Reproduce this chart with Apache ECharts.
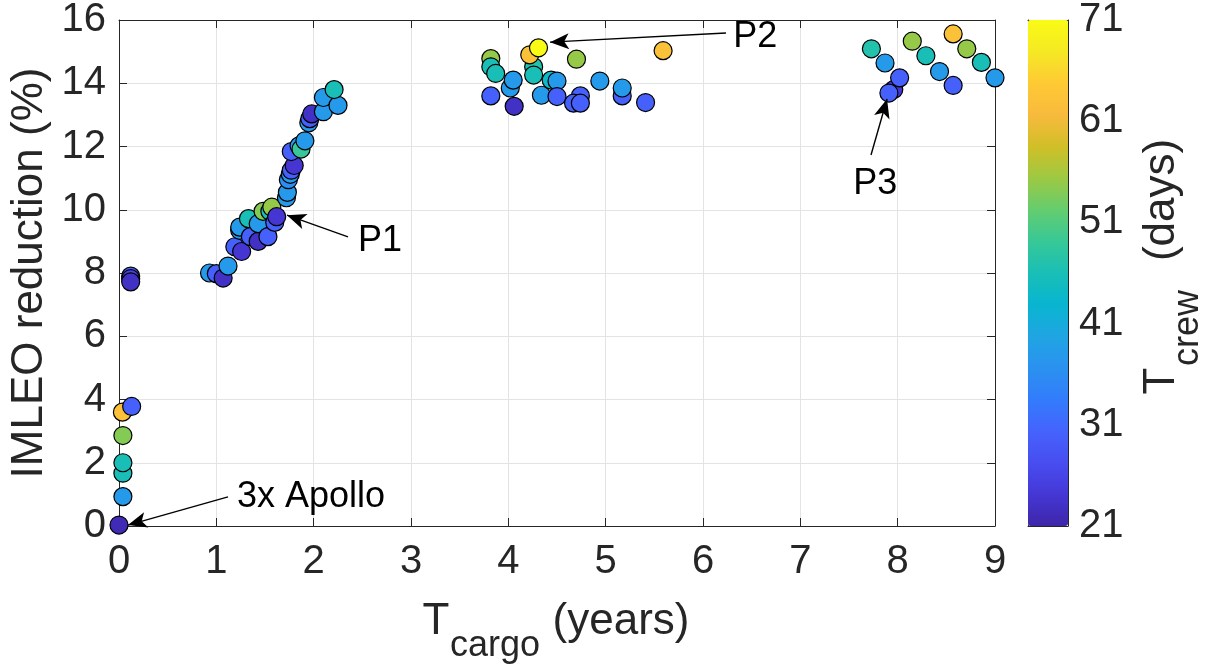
<!DOCTYPE html>
<html>
<head>
<meta charset="utf-8">
<script src="https://cdn.jsdelivr.net/npm/echarts@6/dist/echarts.min.js"></script>
<style>html,body{margin:0;padding:0;background:#fff}#main{width:1213px;height:664px}</style>
</head>
<body>
<div id="main"></div>
<script>
// T_cargo (years), IMLEO reduction (%), T_crew (days)
var tcargo = [0.00, 0.04, 0.04, 0.04, 0.04, 0.035, 0.13, 0.12, 0.12, 0.12,
  0.93, 1.00, 1.07, 1.12, 1.19, 1.26, 1.24, 1.24, 1.33, 1.35, 1.43, 1.43, 1.53, 1.48, 1.55,
  1.57, 1.60, 1.62, 1.72, 1.73, 1.74, 1.76, 1.77, 1.80, 1.77, 1.85, 1.87, 1.91, 1.95, 1.96,
  1.98, 2.10, 2.10, 2.25, 2.21,
  3.82, 3.82, 3.87, 3.82, 4.02, 4.05, 4.06, 4.26, 4.26, 4.22, 4.31, 4.34, 4.44, 4.50, 4.50,
  4.70, 4.74, 4.67, 4.74, 4.94, 5.17, 5.17, 5.41, 5.59,
  7.73, 7.87, 7.96, 8.02, 7.91, 8.15, 8.29, 8.43, 8.57, 8.57, 8.71, 8.86, 9.00];
var imleo = [0.03, 0.93, 1.67, 2.00, 2.86, 3.60, 3.78, 7.90, 7.82, 7.72,
  8.00, 7.98, 7.84, 8.22, 8.83, 8.68, 9.35, 9.45, 9.72, 9.15, 9.00, 9.56, 9.15, 9.95, 9.95,
  10.08, 9.60, 9.78, 10.38, 10.55, 10.95, 11.12, 11.25, 11.40, 11.84, 12.02, 11.92, 12.18, 12.75, 12.88,
  13.03, 13.10, 13.55, 13.30, 13.80,
  14.78, 14.52, 14.31, 13.60, 13.85, 14.10, 13.27, 14.52, 14.26, 14.90, 15.12, 13.62, 14.10, 14.07, 13.58,
  14.76, 13.60, 13.37, 13.37, 14.07, 13.60, 13.85, 13.39, 15.03,
  15.09, 14.64, 13.80, 14.17, 13.69, 15.33, 14.87, 14.37, 13.93, 15.56, 15.09, 14.66, 14.17];
var tcrew = [22, 38, 46, 46, 54, 63, 30, 30, 26, 23,
  38, 30, 23, 38, 30, 24, 38, 38, 46, 30, 23, 38, 30, 54, 46,
  55, 30, 24, 38, 38, 36, 38, 30, 24, 30, 38, 49, 38, 38, 30,
  23, 38, 38, 38, 46,
  55, 46, 46, 30, 38, 38, 23, 47, 46, 63, 71, 38, 44, 38, 30,
  55, 30, 30, 30, 38, 30, 38, 30, 63,
  47, 38, 24, 30, 30, 55, 46, 38, 30, 63, 55, 46, 38];

var xRange = [0, 9, 1];
var yRange = [0, 16, 2];
var crewRange = [21, 71, 10];

// annotations: label, label anchor, arrow tail, arrow tip (data coords)
var annoText = ['3x Apollo', 'P1', 'P2', 'P3'];
var annoAt = [[1.212, 0.90], [2.456, 9.0], [6.31, 15.45], [7.77, 10.81]];
var annoAlign = ['left', 'left', 'left', 'center'];
var annoTail = [[1.12, 0.92], [2.353, 9.14], [6.236, 15.59], [7.726, 11.73]];
var annoTip = [[0.092, 0.03], [1.726, 9.83], [4.428, 15.30], [7.891, 13.50]];

// parula
var parula = ['#3e26a8', '#4537d5', '#484df0', '#4563fd', '#327cfc', '#2b91ef', '#20a5e3', '#08b5d0',
  '#19bfb6', '#37c897', '#64cd6f', '#9dc943', '#d1bf27', '#f8ba3d', '#fec934', '#f5e924', '#f9fb15'];

var font = 'Liberation Sans, Arial, sans-serif';
var ink = '#262626';

var points = [];
for (var i = 0; i < tcargo.length; i++) {
  points.push([tcargo[i], imleo[i], tcrew[i]]);
}
var arrows = [];
for (var i = 0; i < annoTail.length; i++) {
  arrows.push([{coord: annoTail[i]}, {coord: annoTip[i]}]);
}

var chart = echarts.init(document.getElementById('main'), null, {renderer: 'canvas'});

function edgeAxis(pos, grid, range, ticks) {
  return {
    type: 'value', gridIndex: grid, position: pos,
    min: range[0], max: range[1], interval: range[2],
    axisLine: {show: true, onZero: false, lineStyle: {color: ink, width: 1}},
    axisTick: {show: ticks, inside: true, length: 8, lineStyle: {color: ink}},
    axisLabel: {show: false},
    splitLine: {show: false}
  };
}

var option = {
  animation: false,
  backgroundColor: '#fff',
  textStyle: {fontFamily: font},
  grid: [
    {left: 119, right: 218, top: 20, bottom: 138, outerBoundsMode: 'none'},
    {left: 1028, width: 40, top: 20, height: 506, outerBoundsMode: 'none'}
  ],
  xAxis: [
    {
      type: 'value', gridIndex: 0, position: 'bottom',
      min: xRange[0], max: xRange[1], interval: xRange[2],
      axisLine: {show: true, onZero: false, lineStyle: {color: ink, width: 1}},
      axisTick: {show: true, inside: true, length: 8, lineStyle: {color: ink}},
      axisLabel: {color: ink, fontSize: 40, fontFamily: font, margin: 16},
      splitLine: {show: true, lineStyle: {color: '#e3e3e3', width: 1}}
    },
    edgeAxis('top', 0, xRange, true),
    edgeAxis('bottom', 1, [0, 1, 1], false),
    edgeAxis('top', 1, [0, 1, 1], false)
  ],
  yAxis: [
    {
      type: 'value', gridIndex: 0, position: 'left',
      min: yRange[0], max: yRange[1], interval: yRange[2],
      axisLine: {show: true, onZero: false, lineStyle: {color: ink, width: 1}},
      axisTick: {show: true, inside: true, length: 8, lineStyle: {color: ink}},
      axisLabel: {color: ink, fontSize: 40, fontFamily: font, margin: 13},
      splitLine: {show: true, lineStyle: {color: '#e3e3e3', width: 1}}
    },
    edgeAxis('right', 0, yRange, true),
    {
      type: 'value', gridIndex: 1, position: 'right',
      min: crewRange[0], max: crewRange[1], interval: crewRange[2],
      axisLine: {show: true, onZero: false, lineStyle: {color: ink, width: 1}},
      axisTick: {show: true, inside: true, length: 5, lineStyle: {color: ink}},
      axisLabel: {color: ink, fontSize: 40, fontFamily: font, margin: 11},
      splitLine: {show: false}
    },
    edgeAxis('left', 1, crewRange, false)
  ],
  visualMap: {
    type: 'continuous', seriesIndex: 0, dimension: 2,
    min: crewRange[0], max: crewRange[1],
    calculable: false, orient: 'vertical',
    left: 1028, top: 20, itemWidth: 40, itemHeight: 506,
    padding: 0, text: null, showLabel: false,
    inRange: {color: parula}
  },
  series: [
    {
      type: 'scatter', xAxisIndex: 0, yAxisIndex: 0,
      symbol: 'circle', symbolSize: 18,
      itemStyle: {borderColor: '#000', borderWidth: 1.2, opacity: 1},
      data: points, z: 3
    },
    {
      type: 'scatter', xAxisIndex: 0, yAxisIndex: 0, data: [], z: 4,
      markLine: {
        silent: true, animation: false,
        symbol: ['none', 'arrow'], symbolSize: [12, 19],
        lineStyle: {color: '#000', width: 1.4, type: 'solid'},
        label: {show: false},
        data: arrows
      }
    }
  ]
};
chart.setOption(option);

// axis titles and annotation labels
var g = [];
g.push({type: 'text', x: 30, y: 273, rotation: Math.PI / 2,
  style: {text: 'IMLEO reduction (%)', font: '44px ' + font, fill: ink, align: 'center', verticalAlign: 'middle'}});
g.push({type: 'text', x: 436, y: 622,
  style: {text: 'T', font: '44px ' + font, fill: ink, align: 'center', verticalAlign: 'middle'}});
g.push({type: 'text', x: 495, y: 646,
  style: {text: 'cargo', font: '36px ' + font, fill: ink, align: 'center', verticalAlign: 'middle'}});
g.push({type: 'text', x: 621, y: 622,
  style: {text: '(years)', font: '44px ' + font, fill: ink, align: 'center', verticalAlign: 'middle'}});
g.push({type: 'text', x: 1162, y: 381, rotation: Math.PI / 2,
  style: {text: 'T', font: '44px ' + font, fill: ink, align: 'center', verticalAlign: 'middle'}});
g.push({type: 'text', x: 1188, y: 328, rotation: Math.PI / 2,
  style: {text: 'crew', font: '36px ' + font, fill: ink, align: 'center', verticalAlign: 'middle'}});
g.push({type: 'text', x: 1162, y: 200, rotation: Math.PI / 2,
  style: {text: '(days)', font: '44px ' + font, fill: ink, align: 'center', verticalAlign: 'middle'}});
for (var i = 0; i < annoText.length; i++) {
  var p = chart.convertToPixel({xAxisIndex: 0, yAxisIndex: 0}, annoAt[i]);
  g.push({type: 'text', x: p[0], y: p[1], z: 10,
    style: {text: annoText[i], font: '36px ' + font, fill: '#000', align: annoAlign[i], verticalAlign: 'middle'}});
}
chart.setOption({graphic: g});
</script>
</body>
</html>
